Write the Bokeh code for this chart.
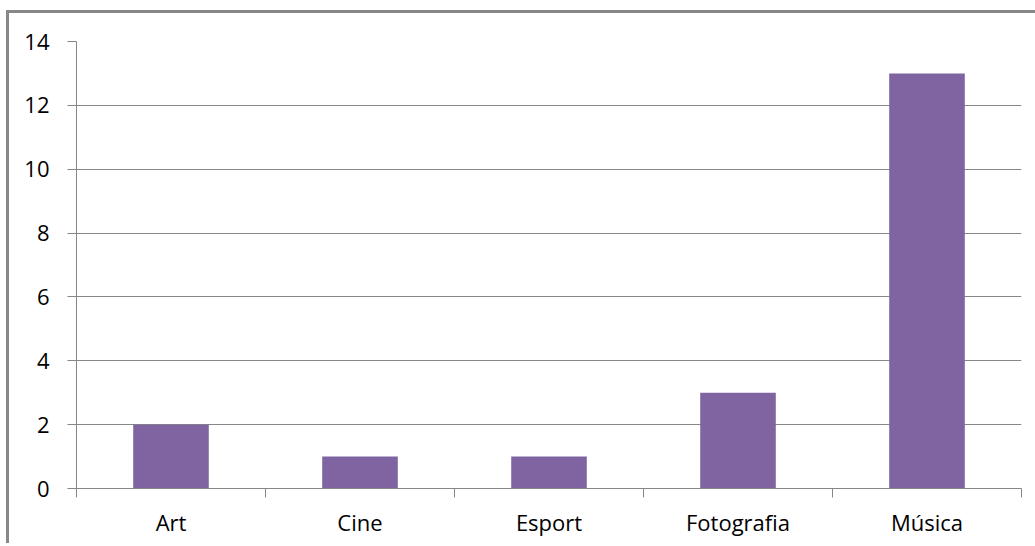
from bokeh.plotting import figure
from bokeh.models import Range1d, FixedTicker, ColumnDataSource
from bokeh.embed import file_html
from bokeh.resources import INLINE

categories = ["Art", "Cine", "Esport", "Fotografia", "Música"]
values = [2, 1, 1, 3, 13]
y_ticks = [0, 2, 4, 6, 8, 10, 12, 14]

centers = [i + 0.5 for i in range(len(categories))]
boundaries = [float(i) for i in range(len(categories) + 1)]
src = ColumnDataSource(dict(x=centers, top=values, cat=categories))

p = figure(width=1026, height=530, output_backend="svg", toolbar_location=None,
           x_range=Range1d(0, len(categories)), y_range=Range1d(0, 14),
           min_border_left=67, min_border_right=14, min_border_top=28, min_border_bottom=55)
p.frame_width = 945
p.frame_height = 447
p.outline_line_color = None
p.background_fill_color = "white"
p.border_fill_color = "white"
p.styles = {"border-left": "3px solid #888888", "border-top": "3px solid #888888",
            "margin-left": "6px", "margin-top": "10px"}

p.vbar(x="x", top="top", width=0.4, bottom=0, source=src, fill_color="#8064A2", line_color=None)

p.xgrid.grid_line_color = None
p.ygrid.grid_line_color = "#868686"
p.ygrid.ticker = FixedTicker(ticks=y_ticks)

p.yaxis.ticker = FixedTicker(ticks=y_ticks)
p.yaxis.axis_line_color = "#868686"
p.yaxis.major_tick_line_color = "#868686"
p.yaxis.major_tick_out = 9
p.yaxis.major_tick_in = 0
p.yaxis.minor_tick_line_color = None
p.yaxis.major_label_standoff = 18
p.yaxis.major_label_text_font = "Open Sans"
p.yaxis.major_label_text_font_size = "22px"
p.yaxis.major_label_text_color = "#000000"

p.xaxis.ticker = FixedTicker(ticks=centers, minor_ticks=boundaries)
p.xaxis.major_label_overrides = {c: n for c, n in zip(centers, categories)}
p.xaxis.axis_line_color = "#868686"
p.xaxis.major_tick_line_color = None
p.xaxis.major_tick_out = 0
p.xaxis.major_tick_in = 0
p.xaxis.minor_tick_line_color = "#868686"
p.xaxis.minor_tick_out = 9
p.xaxis.minor_tick_in = 0
p.xaxis.major_label_standoff = 9
p.xaxis.major_label_text_font = "Open Sans"
p.xaxis.major_label_text_font_size = "22px"
p.xaxis.major_label_text_color = "#000000"

open("out.html", "w").write(file_html(p, INLINE))
